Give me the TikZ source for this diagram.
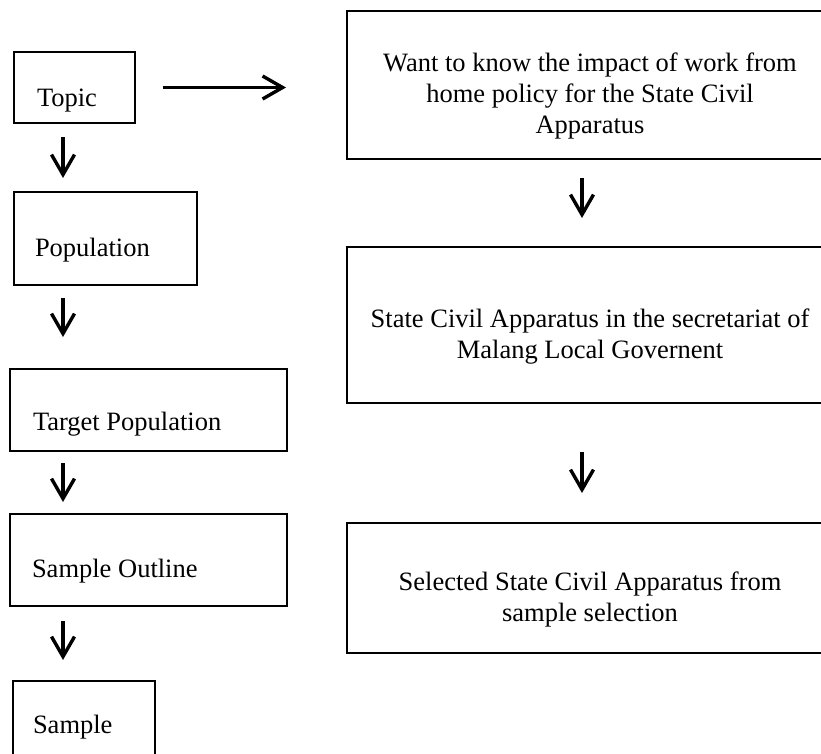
\documentclass[tikz,border=0pt]{standalone}
\usepackage{fontspec}
\setmainfont{Liberation Serif}
\usetikzlibrary{positioning}
\usetikzlibrary{arrows.meta}
\tikzset{
    mybox/.style = {rectangle, line width=2.7pt, draw=black, anchor=north west, inner ysep=0pt, outer sep=0pt, align=flush left, font=\fontsize{26.5}{31}\selectfont, text=black},
    myboxr/.style = {rectangle, line width=2.7pt, draw=black, anchor=north west, inner xsep=10pt, inner ysep=0pt, outer sep=0pt, align=flush center, text width=466pt, font=\fontsize{26.5}{31}\selectfont, text=black},
    edgea/.style = {-{Straight Barb[length=20pt,width=23pt]}, line width=3.4pt, black},
}

\begin{document}
\begin{tikzpicture}[x=1pt, y=-1pt]
\useasboundingbox (0,0) rectangle (821,753);
\clip (0,0) rectangle (821,753);
% left column
\node[mybox, inner xsep=23pt, text width=75pt, text height=54pt, text depth=17pt] at (14, 52) (topic) {Topic};
\node[mybox, inner xsep=21pt, text width=141pt, text height=64pt, text depth=29pt] at (14, 192) (pop) {Population};
\node[mybox, inner xsep=23pt, text width=231pt, text height=61pt, text depth=21pt] at (10, 369) (target) {Target Population};
\node[mybox, inner xsep=22pt, text width=233pt, text height=63pt, text depth=29pt] at (10, 514) (outline) {Sample Outline};
\node[mybox, inner xsep=20pt, text width=102pt, text height=52pt, text depth=57pt] at (13, 681) (sample) {Sample};
% right column
\node[myboxr, text height=60pt, text depth=88pt] at (347, 11) (want) {Want to know the impact of work from\\ home policy for the State Civil\\ Apparatus};
\node[myboxr, text height=80pt, text depth=76pt] at (347, 247) (asn) {State Civil Apparatus in the secretariat of\\ Malang Local Governent};
\node[myboxr, text height=67pt, text depth=63pt] at (347, 523) (selected) {Selected State Civil Apparatus from\\ sample selection};
%
\coordinate (lx) at (63, 0);
\coordinate (rx) at (582, 0);
\draw[edgea, shorten <=28pt, shorten >=61pt] (topic.east) -- (topic.east -| want.west);
\draw[edgea, shorten <=14pt, shorten >=14pt] (topic.south -| lx) -- (pop.north -| lx);
\draw[edgea, shorten <=13pt, shorten >=32pt] (pop.south -| lx) -- (target.north -| lx);
\draw[edgea, shorten <=12pt, shorten >=12pt] (target.south -| lx) -- (outline.north -| lx);
\draw[edgea, shorten <=15pt, shorten >=21pt] (outline.south -| lx) -- (sample.north -| lx);
\draw[edgea, shorten <=19pt, shorten >=29pt] (want.south -| rx) -- (asn.north -| rx);
\draw[edgea, shorten <=49pt, shorten >=30pt] (asn.south -| rx) -- (selected.north -| rx);
\end{tikzpicture}
\end{document}
